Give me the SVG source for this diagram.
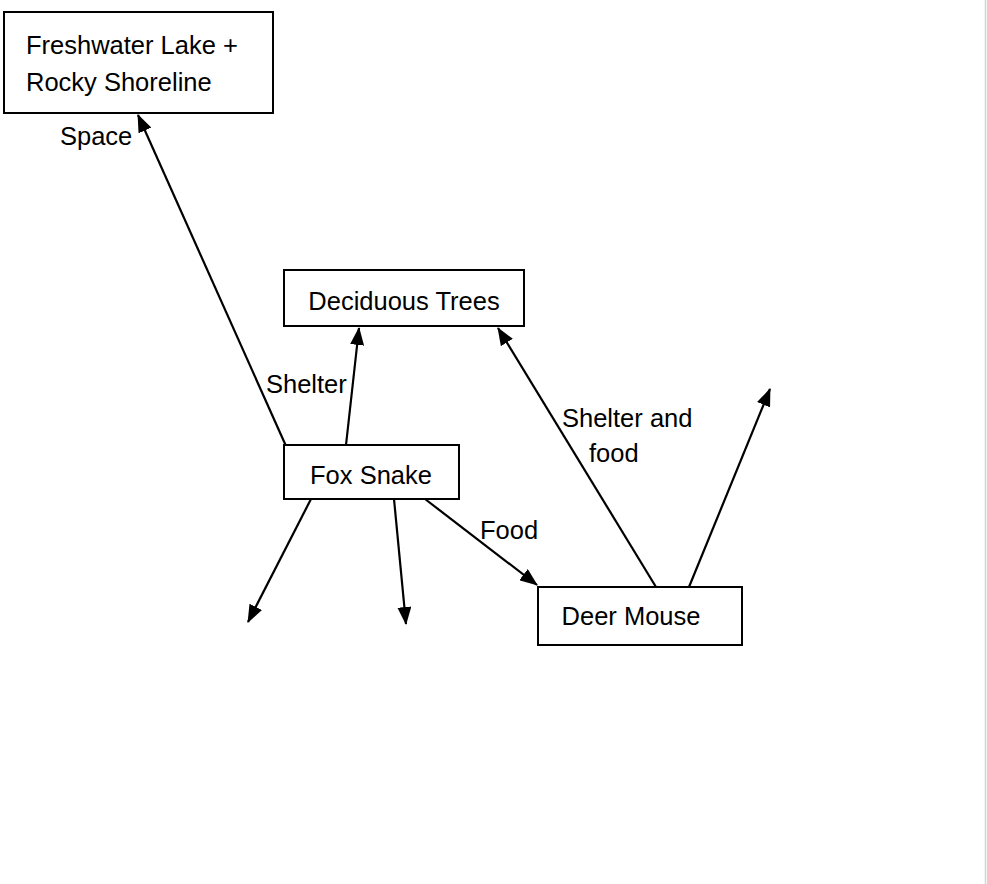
<svg xmlns="http://www.w3.org/2000/svg" width="987" height="884" viewBox="0 0 987 884">
<defs>
<style>
.box{fill:#fff;stroke:#000;stroke-width:2}
.t{font-family:"Liberation Sans",Arial,sans-serif;font-size:25.5px;fill:#000}
.c{text-anchor:middle}
.conn line{stroke:#000;stroke-width:2.2;marker-end:url(#ah)}
</style>
<marker id="ah" markerUnits="userSpaceOnUse" viewBox="0 0 18 14" markerWidth="18" markerHeight="14" refX="17" refY="7" orient="auto">
<path d="M0,0 L18,7 L0,14 z" fill="#000"/>
</marker>
</defs>
<rect x="0" y="0" width="987" height="884" fill="#fff"/>
<line x1="985.5" y1="0" x2="985.5" y2="884" stroke="#d4d4d4" stroke-width="1.5"/>
<g id="connectors" class="conn">
<line x1="286" y1="446" x2="138" y2="115"/>
<line x1="346" y1="445" x2="359" y2="328"/>
<line x1="311" y1="499" x2="248" y2="622"/>
<line x1="394" y1="499" x2="406" y2="624"/>
<line x1="425" y1="499" x2="537" y2="585"/>
<line x1="656" y1="587" x2="498" y2="328"/>
<line x1="689" y1="587" x2="770" y2="389"/>
</g>
<g id="labels">
<text class="t" x="60" y="145">Space</text>
<text class="t" x="266" y="393">Shelter</text>
<text class="t" x="480" y="539">Food</text>
<text class="t" x="562" y="427">Shelter and</text>
<text class="t" x="589" y="462">food</text>
</g>
<g id="freshwater">
<rect class="box" x="4" y="12" width="269" height="101"/>
<text class="t" x="26" y="54">Freshwater Lake +</text>
<text class="t" x="26" y="91">Rocky Shoreline</text>
</g>
<g id="deciduous">
<rect class="box" x="284" y="270" width="240" height="56"/>
<text class="t c" x="404" y="310">Deciduous Trees</text>
</g>
<g id="foxsnake">
<rect class="box" x="284" y="445" width="175" height="54"/>
<text class="t c" x="371" y="484">Fox Snake</text>
</g>
<g id="deermouse">
<rect class="box" x="538" y="587" width="204" height="58"/>
<text class="t c" x="631" y="625">Deer Mouse</text>
</g>
</svg>
